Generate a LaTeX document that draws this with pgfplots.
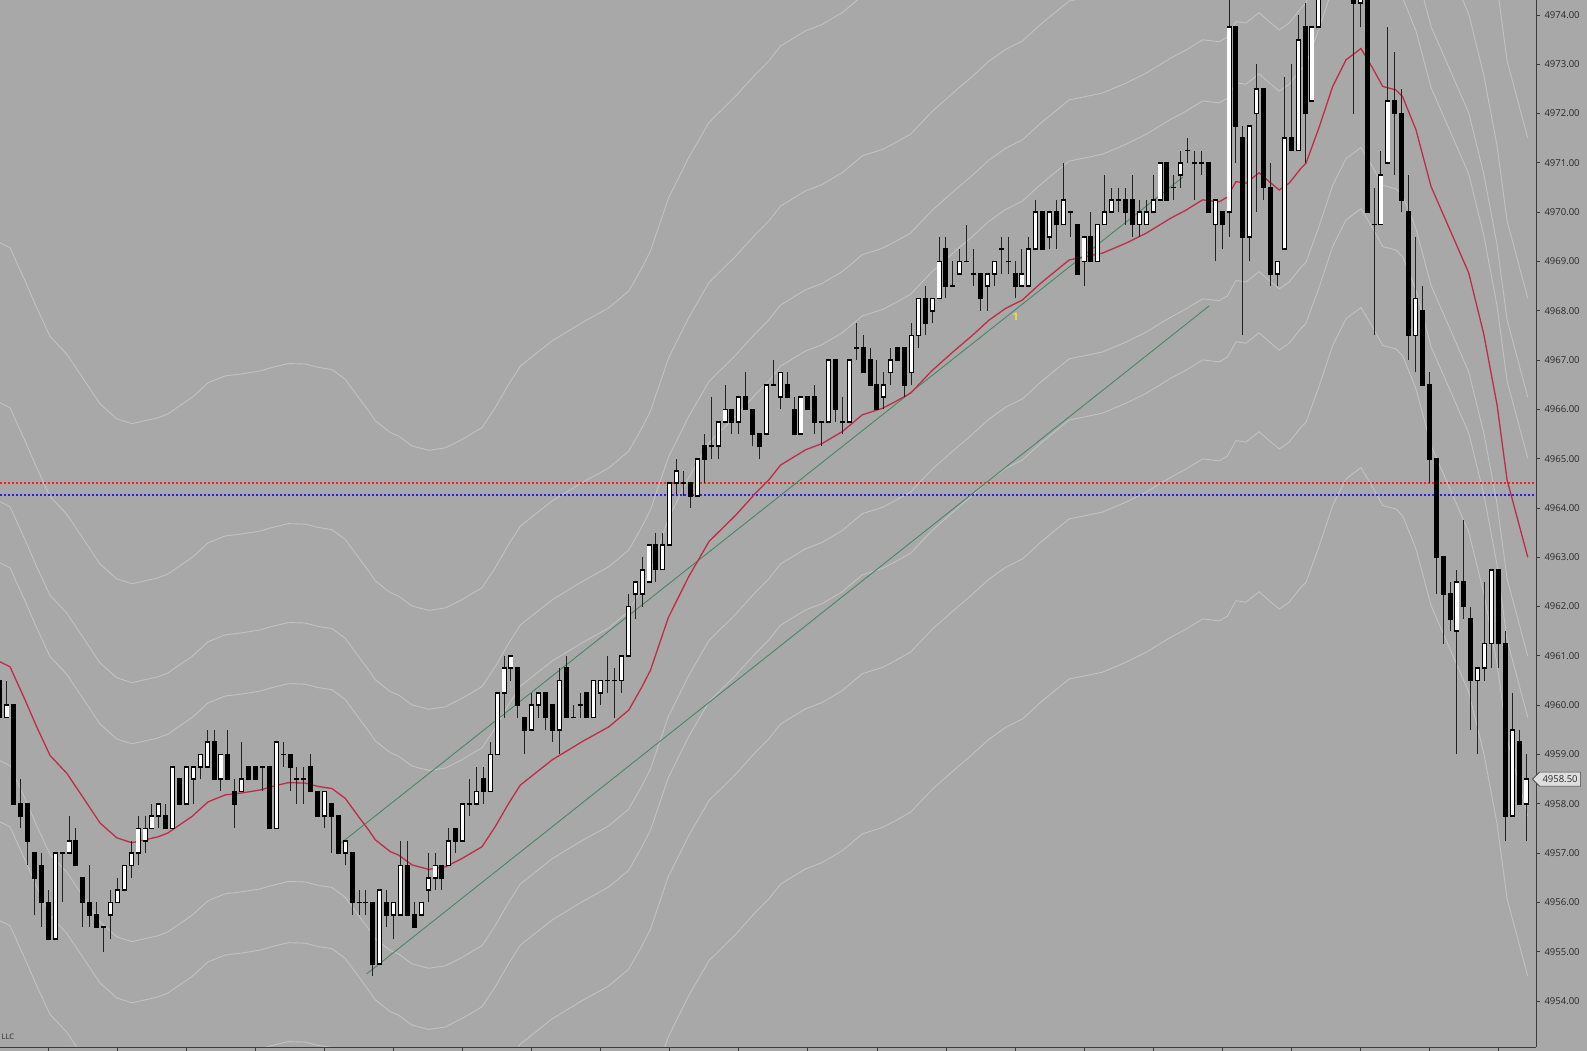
\documentclass[border=0pt]{standalone}
\usepackage{pgfplots}
\pgfplotsset{compat=1.18}
\usepackage{pgfplotstable}
\usepackage{fontspec}
\setmainfont{Open Sans}
\usetikzlibrary{shapes.symbols}
\definecolor{bg}{RGB}{168,168,168}
\definecolor{bandc}{RGB}{194,194,194}
\definecolor{mac}{RGB}{190,45,70}
\definecolor{trendc}{RGB}{72,135,100}
\definecolor{lvred}{RGB}{250,30,30}
\definecolor{lvblue}{RGB}{35,35,225}
\definecolor{axisc}{RGB}{60,60,60}
\definecolor{labelc}{RGB}{40,40,40}
\definecolor{wickc}{RGB}{35,35,35}
\definecolor{labelbg}{RGB}{222,222,222}
\definecolor{yel}{RGB}{245,225,40}

\pgfplotstableread{
i O H L C
0 4960.50 4960.50 4959.75 4959.75
1 4959.75 4960.50 4959.75 4960.00
2 4960.00 4960.00 4958.00 4958.00
3 4958.00 4958.50 4957.50 4957.75
4 4958.00 4958.00 4956.75 4957.25
5 4957.00 4957.00 4955.75 4956.50
6 4956.75 4957.00 4955.50 4956.00
7 4956.00 4956.25 4955.25 4955.25
8 4955.25 4957.00 4955.25 4957.00
9 4957.00 4957.00 4956.00 4957.00
10 4957.00 4957.75 4957.00 4957.25
11 4957.25 4957.50 4956.75 4956.75
12 4956.50 4956.50 4955.50 4956.00
13 4956.00 4956.75 4955.50 4955.75
14 4955.75 4956.00 4955.50 4955.50
15 4955.50 4955.50 4955.00 4955.50
16 4955.75 4956.25 4955.25 4956.00
17 4956.00 4956.50 4956.00 4956.25
18 4956.25 4956.75 4956.25 4956.75
19 4956.75 4957.25 4956.50 4957.00
20 4957.00 4957.75 4956.75 4957.50
21 4957.25 4957.75 4957.00 4957.50
22 4957.50 4958.00 4957.50 4957.75
23 4957.75 4958.00 4957.50 4958.00
24 4957.75 4958.00 4957.50 4957.50
25 4957.50 4958.75 4957.50 4958.75
26 4958.50 4958.50 4958.00 4958.00
27 4958.00 4958.75 4958.00 4958.75
28 4958.50 4958.75 4958.00 4958.75
29 4958.75 4959.00 4958.50 4959.00
30 4958.75 4959.50 4958.75 4959.25
31 4959.25 4959.50 4958.50 4958.50
32 4958.50 4959.00 4958.25 4959.00
33 4959.00 4959.50 4958.50 4958.50
34 4958.25 4958.50 4957.50 4958.00
35 4958.25 4959.25 4958.25 4958.50
36 4958.75 4958.75 4958.50 4958.50
37 4958.75 4958.75 4958.50 4958.50
38 4958.75 4958.75 4958.25 4958.75
39 4958.75 4958.75 4957.50 4957.50
40 4957.50 4959.25 4957.50 4959.25
41 4959.00 4959.25 4958.75 4959.00
42 4959.00 4959.00 4958.25 4958.75
43 4958.50 4958.75 4958.00 4958.50
44 4958.50 4958.75 4958.00 4958.50
45 4958.75 4959.00 4958.25 4958.25
46 4958.25 4958.25 4957.75 4957.75
47 4957.75 4958.25 4957.50 4958.25
48 4958.00 4958.00 4957.00 4957.75
49 4957.75 4957.75 4957.00 4957.00
50 4957.00 4957.25 4956.75 4957.25
51 4957.00 4957.00 4955.75 4956.00
52 4956.00 4956.25 4955.75 4956.00
53 4956.00 4956.25 4955.75 4956.00
54 4956.00 4956.00 4954.50 4954.75
55 4954.75 4956.25 4954.75 4956.25
56 4956.00 4956.25 4955.50 4955.75
57 4955.75 4956.00 4955.25 4956.00
58 4955.75 4957.25 4955.75 4956.75
59 4956.75 4957.25 4955.75 4955.75
60 4955.75 4956.00 4955.50 4955.50
61 4955.75 4956.00 4955.75 4956.00
62 4956.25 4957.00 4956.00 4956.50
63 4956.50 4957.00 4956.25 4956.75
64 4956.75 4956.75 4956.25 4956.50
65 4956.75 4957.50 4956.75 4957.25
66 4957.50 4957.50 4957.00 4957.25
67 4957.25 4958.00 4957.25 4958.00
68 4958.00 4958.50 4957.75 4958.00
69 4958.00 4958.75 4958.00 4958.25
70 4958.50 4958.75 4958.00 4958.25
71 4958.25 4959.25 4958.25 4959.00
72 4959.00 4960.25 4959.00 4960.25
73 4960.25 4961.00 4959.75 4960.75
74 4960.75 4961.00 4960.50 4961.00
75 4960.75 4960.75 4959.75 4960.00
76 4959.75 4959.75 4959.00 4959.50
77 4959.50 4960.25 4959.50 4960.00
78 4960.00 4960.25 4959.75 4960.25
79 4960.25 4960.25 4959.50 4959.75
80 4960.00 4960.00 4959.25 4959.50
81 4959.50 4960.75 4959.00 4960.50
82 4960.75 4961.00 4959.75 4959.75
83 4959.75 4960.00 4959.75 4959.75
84 4960.00 4960.25 4959.75 4960.00
85 4960.25 4960.25 4959.75 4959.75
86 4959.75 4960.50 4959.75 4960.50
87 4960.25 4960.50 4960.00 4960.50
88 4960.50 4961.00 4960.25 4960.50
89 4960.50 4960.75 4959.75 4960.50
90 4960.50 4961.00 4960.25 4961.00
91 4961.00 4962.25 4961.00 4962.00
92 4962.25 4962.50 4961.75 4962.50
93 4962.25 4963.00 4962.00 4962.75
94 4962.50 4963.25 4962.50 4963.25
95 4963.25 4963.50 4962.50 4962.75
96 4962.75 4963.50 4962.75 4963.25
97 4963.25 4964.50 4963.25 4964.50
98 4964.50 4965.00 4964.25 4964.75
99 4964.50 4964.75 4964.25 4964.50
100 4964.50 4964.50 4964.00 4964.25
101 4964.25 4965.00 4964.25 4965.00
102 4965.25 4965.50 4964.50 4965.00
103 4965.25 4966.25 4965.00 4965.25
104 4965.25 4965.75 4965.00 4965.75
105 4965.75 4966.50 4965.75 4966.00
106 4966.00 4966.00 4965.50 4965.75
107 4965.75 4966.25 4965.50 4966.25
108 4966.25 4966.75 4966.00 4966.00
109 4966.00 4966.00 4965.25 4965.50
110 4965.50 4965.50 4965.00 4965.25
111 4965.50 4966.50 4965.50 4966.50
112 4966.50 4967.00 4966.50 4966.50
113 4966.25 4966.75 4966.00 4966.75
114 4966.50 4966.75 4966.25 4966.25
115 4966.00 4966.25 4965.50 4965.50
116 4965.50 4966.25 4965.50 4966.25
117 4966.25 4966.25 4966.00 4966.00
118 4966.25 4966.50 4965.50 4965.75
119 4965.75 4965.75 4965.25 4965.75
120 4965.75 4967.00 4965.75 4967.00
121 4967.00 4967.00 4965.75 4966.00
122 4965.75 4966.25 4965.50 4965.75
123 4965.75 4967.00 4965.75 4967.00
124 4967.25 4967.75 4967.00 4967.25
125 4967.25 4967.50 4966.75 4966.75
126 4967.00 4967.25 4966.50 4966.50
127 4966.50 4967.00 4966.00 4966.00
128 4966.25 4966.75 4966.00 4966.50
129 4966.75 4967.25 4966.50 4967.00
130 4967.25 4967.25 4967.00 4967.00
131 4967.25 4967.25 4966.25 4966.50
132 4966.75 4967.75 4966.50 4967.50
133 4967.50 4968.25 4967.25 4968.25
134 4968.25 4968.50 4967.50 4967.75
135 4968.00 4968.25 4967.75 4968.25
136 4968.25 4969.50 4968.25 4969.00
137 4969.25 4969.50 4968.25 4968.50
138 4968.50 4969.00 4968.50 4968.50
139 4968.75 4969.25 4968.75 4969.00
140 4969.00 4969.75 4969.00 4969.00
141 4968.75 4969.25 4968.50 4968.75
142 4968.75 4968.75 4968.00 4968.25
143 4968.50 4968.75 4968.00 4968.75
144 4968.75 4969.00 4968.50 4969.00
145 4969.25 4969.50 4968.75 4969.25
146 4969.00 4969.50 4968.75 4969.00
147 4968.75 4969.00 4968.25 4968.50
148 4968.50 4969.25 4968.50 4968.75
149 4968.50 4969.50 4968.50 4969.25
150 4969.25 4970.25 4969.25 4970.00
151 4970.00 4970.00 4969.25 4969.25
152 4969.50 4970.00 4969.25 4970.00
153 4970.00 4970.25 4969.25 4969.75
154 4969.75 4971.00 4969.75 4970.25
155 4970.00 4970.00 4969.50 4970.00
156 4969.75 4969.75 4968.75 4968.75
157 4969.00 4969.50 4968.50 4969.50
158 4969.50 4970.00 4969.00 4969.00
159 4969.00 4969.75 4969.00 4969.75
160 4969.75 4970.75 4969.75 4970.00
161 4970.00 4970.50 4970.00 4970.25
162 4970.25 4970.50 4970.00 4970.25
163 4970.25 4970.50 4969.75 4970.00
164 4970.25 4970.75 4969.50 4969.75
165 4969.75 4970.25 4969.50 4970.00
166 4969.75 4970.25 4969.75 4970.00
167 4970.00 4970.75 4970.00 4970.25
168 4970.25 4971.00 4970.25 4971.00
169 4971.00 4971.00 4970.25 4970.25
170 4970.50 4970.75 4970.25 4970.50
171 4970.75 4971.25 4970.50 4971.00
172 4971.25 4971.50 4971.00 4971.25
173 4971.00 4971.25 4970.25 4971.00
174 4971.00 4971.25 4970.75 4971.00
175 4971.00 4971.00 4970.00 4970.00
176 4969.75 4970.25 4969.00 4970.25
177 4970.00 4970.00 4969.25 4969.75
178 4970.00 4974.50 4969.50 4973.75
179 4973.75 4973.75 4971.00 4971.75
180 4971.50 4971.75 4967.50 4969.50
181 4969.50 4971.75 4969.00 4971.75
182 4972.00 4973.00 4970.00 4972.50
183 4972.50 4972.50 4970.25 4970.50
184 4970.50 4971.00 4968.50 4968.75
185 4968.75 4969.00 4968.50 4969.00
186 4969.25 4972.75 4969.25 4971.50
187 4971.50 4973.00 4971.25 4971.25
188 4971.25 4974.00 4971.25 4973.50
189 4973.75 4974.25 4971.00 4972.00
190 4972.25 4973.75 4972.25 4973.75
191 4973.75 4974.75 4973.75 4974.50
192 4974.50 4975.25 4974.50 4975.00
193 4975.00 4975.25 4974.50 4974.75
194 4974.75 4975.50 4974.50 4975.25
195 4975.25 4975.50 4974.50 4974.75
196 4974.75 4974.75 4972.00 4974.25
197 4974.25 4974.75 4973.75 4974.50
198 4974.50 4974.75 4970.00 4970.00
199 4969.75 4970.50 4967.50 4969.75
200 4969.75 4971.25 4969.75 4970.75
201 4971.00 4973.75 4971.00 4972.25
202 4972.25 4973.25 4970.75 4972.00
203 4972.00 4972.50 4970.00 4970.25
204 4970.00 4970.75 4967.00 4967.50
205 4967.50 4969.50 4966.75 4968.25
206 4968.00 4968.50 4966.50 4966.50
207 4966.50 4966.75 4964.50 4965.00
208 4965.00 4965.00 4962.25 4963.00
209 4963.00 4963.00 4961.25 4962.25
210 4962.25 4962.50 4961.50 4961.75
211 4961.50 4962.75 4959.00 4962.50
212 4962.50 4963.75 4961.75 4962.00
213 4961.75 4962.00 4959.50 4960.50
214 4960.50 4960.75 4959.00 4960.75
215 4960.75 4962.50 4960.50 4961.25
216 4961.25 4962.75 4960.75 4962.75
217 4962.75 4962.75 4960.75 4961.25
218 4961.25 4961.50 4957.25 4957.75
219 4957.75 4960.25 4957.75 4959.50
220 4959.25 4959.50 4958.00 4958.00
221 4958.00 4959.00 4957.25 4958.50
}\candles

\pgfplotstableread{
x y
0 4960.88
1.45 4960.78
3.62 4960.11
5.32 4959.56
7.25 4958.98
9.67 4958.62
11.59 4958.22
14.49 4957.61
16.91 4957.31
19.09 4957.21
21.01 4957.27
22.90 4957.33
24.35 4957.41
25.36 4957.51
27.78 4957.74
30.14 4958.04
32.61 4958.18
35.03 4958.22
37.68 4958.28
39.38 4958.35
41.78 4958.43
44.20 4958.42
46.13 4958.35
48.07 4958.31
50.00 4958.11
51.93 4957.74
53.38 4957.47
54.35 4957.27
56.52 4957.03
57.72 4956.96
59.67 4956.76
62.07 4956.67
64.49 4956.72
66.91 4956.89
69.81 4957.13
71.74 4957.54
73.67 4958.01
75.36 4958.38
79.96 4958.89
84.30 4959.26
88.16 4959.56
91.06 4959.90
93.00 4960.38
94.20 4960.71
96.80 4961.78
99.71 4962.60
102.68 4963.32
106.52 4963.85
109.42 4964.30
111.35 4964.57
113.04 4964.87
116.67 4965.18
119.09 4965.31
121.99 4965.55
124.88 4965.89
127.78 4966.02
129.71 4966.16
131.88 4966.33
134.93 4966.78
137.88 4967.15
140.81 4967.50
143.23 4967.81
145.65 4968.05
148.07 4968.22
150.72 4968.56
154.83 4969.03
159.67 4969.17
163.04 4969.37
165.94 4969.57
169.57 4969.88
171.74 4970.04
174.16 4970.25
176.57 4970.21
177.78 4970.31
178.99 4970.62
180.43 4970.59
182.36 4970.80
183.81 4970.62
185.26 4970.45
186.71 4970.59
188.41 4970.89
189.13 4970.99
191.06 4971.73
193.00 4972.55
194.93 4973.09
197.10 4973.32
198.80 4972.92
200.25 4972.55
202.17 4972.48
203.14 4972.34
205.07 4971.67
207.25 4970.52
212.70 4968.77
214.88 4967.53
216.81 4966.09
218.26 4964.57
221.26 4963.00
}\matable

\begin{document}
\begin{tikzpicture}
\fill[bg] (0pt,-4pt) rectangle (1587pt,1047pt);
\begin{axis}[
  scale only axis, width=1536pt, height=1047pt,
  xmin=0, xmax=222.45, ymin=4953.067, ymax=4974.304,
  axis x line*=bottom, axis y line*=right,
  axis line style={axisc, line width=0.8pt},
  xtick={7,17,...,217}, xticklabels={},
  ytick={4954,4955,...,4974},
  scaled y ticks=false,
  tick align=outside, major tick length=4pt,
  every tick/.style={axisc, line width=0.8pt},
  yticklabel style={font=\fontsize{9.5}{11}\selectfont, text=labelc, xshift=1pt},
  /pgf/number format/.cd, fixed, fixed zerofill, precision=2, 1000 sep={}, assume math mode=true,
]
% envelope bands around the moving average
\pgfplotsinvokeforeach{-1,-0.618,-0.382,-0.236,0.236,0.382,0.618,1}{
  \addplot[draw=bandc, line width=0.9pt, mark=none, forget plot]
    table[x=x, y expr={\thisrow{y}+(#1)*8.5}] {\matable};
}
% dashed levels
\addplot[color=lvred, line width=1.7pt, dash pattern=on 2pt off 2pt, mark=none, forget plot] coordinates {(0,4964.50) (222.45,4964.50)};
\addplot[color=lvblue, line width=1.5pt, dash pattern=on 2pt off 2pt, mark=none, forget plot] coordinates {(0,4964.26) (222.45,4964.26)};
% trend channel
\addplot[draw=trendc, line width=0.9pt, mark=none, forget plot] coordinates {(48.99,4957.16) (171.30,4970.71)};
\addplot[draw=trendc, line width=0.9pt, mark=none, forget plot] coordinates {(53.10,4954.55) (175.12,4968.10)};
% moving average
\addplot[draw=mac, line width=1.3pt, mark=none, forget plot] table[x=x,y=y] {\matable};
% wicks
\addplot[wickc, line width=1pt, mark=none, forget plot,
  quiver={u=0, v={\thisrow{H}-\thisrow{L}}}]
  table[x=i, y=L] {\candles};
% body outlines / black bodies
\addplot[black, line width=5pt, mark=none, forget plot,
  quiver={u=0, v={abs(\thisrow{C}-\thisrow{O})+0.036}}]
  table[x=i, y expr={min(\thisrow{O},\thisrow{C})-0.018}] {\candles};
% white bodies
\addplot[white, line width=3.2pt, mark=none, forget plot,
  quiver={u=0, v={\thisrow{C}>\thisrow{O} ? \thisrow{C}-\thisrow{O}-0.036 : 0}}]
  table[x=i, y expr={\thisrow{C}>\thisrow{O} ? \thisrow{O}+0.018 : 4990}] {\candles};
\node[text=yel, font=\fontsize{10.5}{12}\selectfont\bfseries, inner sep=0pt] at (axis cs:147.1,4967.87) {1};
\node[anchor=south west, font=\fontsize{7.5}{9}\selectfont, text=labelc, inner sep=0pt] at (rel axis cs:0.001,0.007) {LLC};
\coordinate (plabel) at (axis cs:222.45,4958.5);
\end{axis}
\node[signal, signal to=west, draw=axisc, fill=labelbg, line width=0.7pt,
  font=\fontsize{9.5}{11}\selectfont, text=labelc, inner xsep=3pt, inner ysep=1pt,
  minimum height=14pt, anchor=west] at ([xshift=-4pt]plabel) {4958.50};
\pgfresetboundingbox
\path[use as bounding box] (0pt,-4pt) rectangle (1587pt,1047pt);
\end{tikzpicture}
\end{document}
